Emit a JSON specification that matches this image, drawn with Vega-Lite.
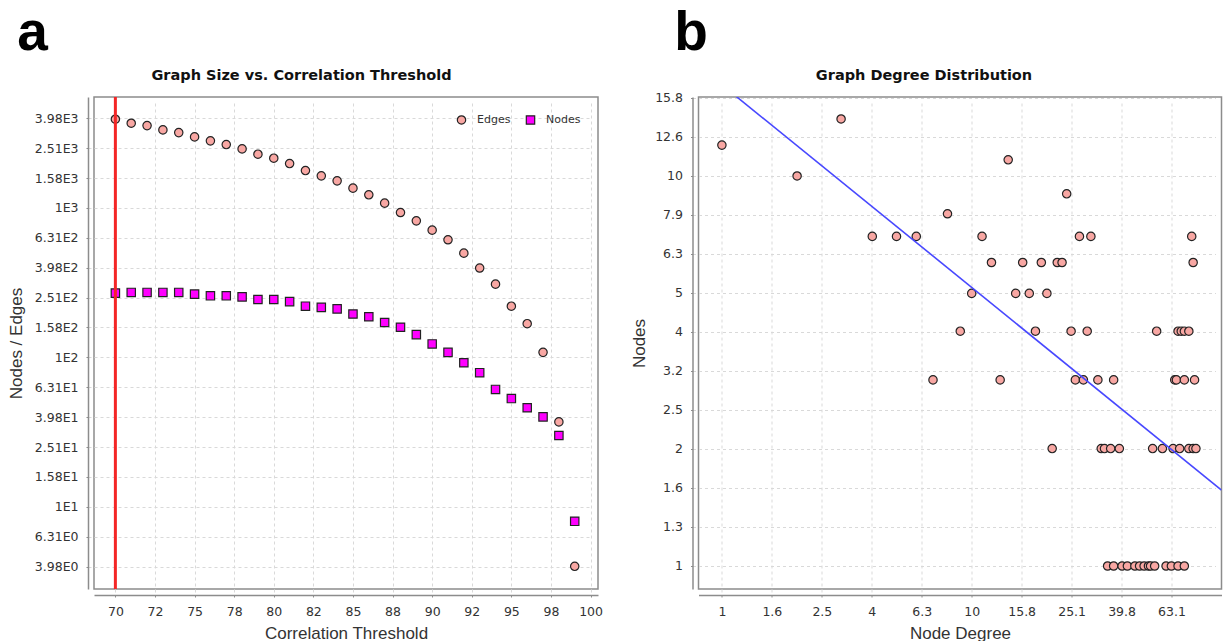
{
  "$schema": "https://vega.github.io/schema/vega-lite/v6.json",
  "background": "white",
  "padding": {"left": 6, "top": 5, "right": 0, "bottom": 0},
  "spacing": 100.5,
  "bounds": "flush",
  "resolve": {"scale": {"color": "independent", "shape": "independent"}, "legend": {"color": "independent", "shape": "independent"}},
  "config": {
    "view": {"stroke": "#8c8c8c", "strokeWidth": 1.5},
    "axis": {
      "labelFont": "DejaVu Sans",
      "labelFontSize": 12.5,
      "labelColor": "#333333",
      "labelOverlap": false,
      "labelFlush": false,
      "titleFont": "Liberation Sans",
      "titleFontSize": 17,
      "titleFontWeight": "normal",
      "titleColor": "#333333",
      "domainColor": "#8c8c8c",
      "domainWidth": 1.5,
      "tickColor": "#8c8c8c",
      "tickSize": 2,
      "labelPadding": 8,
      "gridColor": "#d9d9d9",
      "gridDash": [3, 3],
      "gridWidth": 1,
      "offset": 6
    }
  },
  "datasets": {
    "size": [
      {"threshold": 70, "series": "Edges", "count": 3920},
      {"threshold": 71, "series": "Edges", "count": 3686},
      {"threshold": 72, "series": "Edges", "count": 3552},
      {"threshold": 73, "series": "Edges", "count": 3325},
      {"threshold": 74, "series": "Edges", "count": 3189},
      {"threshold": 75, "series": "Edges", "count": 2985},
      {"threshold": 76, "series": "Edges", "count": 2808},
      {"threshold": 77, "series": "Edges", "count": 2652},
      {"threshold": 78, "series": "Edges", "count": 2482},
      {"threshold": 79, "series": "Edges", "count": 2288},
      {"threshold": 80, "series": "Edges", "count": 2151},
      {"threshold": 81, "series": "Edges", "count": 1979},
      {"threshold": 82, "series": "Edges", "count": 1777},
      {"threshold": 83, "series": "Edges", "count": 1638},
      {"threshold": 84, "series": "Edges", "count": 1517},
      {"threshold": 85, "series": "Edges", "count": 1356},
      {"threshold": 86, "series": "Edges", "count": 1223},
      {"threshold": 87, "series": "Edges", "count": 1076},
      {"threshold": 88, "series": "Edges", "count": 931},
      {"threshold": 89, "series": "Edges", "count": 819},
      {"threshold": 90, "series": "Edges", "count": 710},
      {"threshold": 91, "series": "Edges", "count": 612},
      {"threshold": 92, "series": "Edges", "count": 498},
      {"threshold": 93, "series": "Edges", "count": 396},
      {"threshold": 94, "series": "Edges", "count": 309},
      {"threshold": 95, "series": "Edges", "count": 220},
      {"threshold": 96, "series": "Edges", "count": 168},
      {"threshold": 97, "series": "Edges", "count": 108},
      {"threshold": 98, "series": "Edges", "count": 37},
      {"threshold": 99, "series": "Edges", "count": 4},
      {"threshold": 70, "series": "Nodes", "count": 269},
      {"threshold": 71, "series": "Nodes", "count": 272},
      {"threshold": 72, "series": "Nodes", "count": 272},
      {"threshold": 73, "series": "Nodes", "count": 272},
      {"threshold": 74, "series": "Nodes", "count": 272},
      {"threshold": 75, "series": "Nodes", "count": 265},
      {"threshold": 76, "series": "Nodes", "count": 258},
      {"threshold": 77, "series": "Nodes", "count": 258},
      {"threshold": 78, "series": "Nodes", "count": 254},
      {"threshold": 79, "series": "Nodes", "count": 244},
      {"threshold": 80, "series": "Nodes", "count": 244},
      {"threshold": 81, "series": "Nodes", "count": 236},
      {"threshold": 82, "series": "Nodes", "count": 220},
      {"threshold": 83, "series": "Nodes", "count": 216},
      {"threshold": 84, "series": "Nodes", "count": 211},
      {"threshold": 85, "series": "Nodes", "count": 195},
      {"threshold": 86, "series": "Nodes", "count": 187},
      {"threshold": 87, "series": "Nodes", "count": 171},
      {"threshold": 88, "series": "Nodes", "count": 159},
      {"threshold": 89, "series": "Nodes", "count": 142},
      {"threshold": 90, "series": "Nodes", "count": 123},
      {"threshold": 91, "series": "Nodes", "count": 108},
      {"threshold": 92, "series": "Nodes", "count": 92},
      {"threshold": 93, "series": "Nodes", "count": 79},
      {"threshold": 94, "series": "Nodes", "count": 61},
      {"threshold": 95, "series": "Nodes", "count": 53},
      {"threshold": 96, "series": "Nodes", "count": 46},
      {"threshold": 97, "series": "Nodes", "count": 40},
      {"threshold": 98, "series": "Nodes", "count": 30},
      {"threshold": 99, "series": "Nodes", "count": 8}
    ],
    "threshold": [{"threshold": 70}],
    "degrees": [
      {"degree": 1, "nodes": 12}, {"degree": 2, "nodes": 10}, {"degree": 3, "nodes": 14},
      {"degree": 4, "nodes": 7}, {"degree": 5, "nodes": 7}, {"degree": 6, "nodes": 7},
      {"degree": 7, "nodes": 3}, {"degree": 8, "nodes": 8}, {"degree": 9, "nodes": 4},
      {"degree": 10, "nodes": 5}, {"degree": 11, "nodes": 7}, {"degree": 12, "nodes": 6},
      {"degree": 13, "nodes": 3}, {"degree": 14, "nodes": 11}, {"degree": 15, "nodes": 5},
      {"degree": 16, "nodes": 6}, {"degree": 17, "nodes": 5}, {"degree": 18, "nodes": 4},
      {"degree": 19, "nodes": 6}, {"degree": 20, "nodes": 5}, {"degree": 21, "nodes": 2},
      {"degree": 22, "nodes": 6}, {"degree": 23, "nodes": 6}, {"degree": 24, "nodes": 9},
      {"degree": 25, "nodes": 4}, {"degree": 26, "nodes": 3}, {"degree": 27, "nodes": 7},
      {"degree": 28, "nodes": 3}, {"degree": 29, "nodes": 4}, {"degree": 30, "nodes": 7},
      {"degree": 32, "nodes": 3}, {"degree": 33, "nodes": 2}, {"degree": 34, "nodes": 2},
      {"degree": 35, "nodes": 1}, {"degree": 36, "nodes": 2}, {"degree": 37, "nodes": 3},
      {"degree": 37, "nodes": 1}, {"degree": 39, "nodes": 2}, {"degree": 40, "nodes": 1},
      {"degree": 42, "nodes": 1}, {"degree": 45, "nodes": 1}, {"degree": 47, "nodes": 1},
      {"degree": 49, "nodes": 1}, {"degree": 51, "nodes": 1}, {"degree": 52, "nodes": 1},
      {"degree": 53, "nodes": 2}, {"degree": 54, "nodes": 1}, {"degree": 55, "nodes": 4},
      {"degree": 58, "nodes": 2}, {"degree": 60, "nodes": 1}, {"degree": 63, "nodes": 1},
      {"degree": 64, "nodes": 2}, {"degree": 65, "nodes": 3}, {"degree": 66, "nodes": 3},
      {"degree": 67, "nodes": 1}, {"degree": 67, "nodes": 4}, {"degree": 68, "nodes": 2},
      {"degree": 69, "nodes": 4}, {"degree": 71, "nodes": 4}, {"degree": 71, "nodes": 3},
      {"degree": 71, "nodes": 1}, {"degree": 74, "nodes": 4}, {"degree": 74, "nodes": 2},
      {"degree": 76, "nodes": 7}, {"degree": 77, "nodes": 6}, {"degree": 77, "nodes": 2},
      {"degree": 78, "nodes": 3}, {"degree": 79, "nodes": 2}
    ],
    "fit": [
      {"degree": 0.806, "nodes": 19.16},
      {"degree": 100, "nodes": 1.566}
    ]
  },
  "hconcat": [
    {
      "width": 504,
      "height": 492,
      "title": {"text": "a", "anchor": "start", "frame": "bounds", "font": "Liberation Sans", "fontSize": 55, "fontWeight": "bold", "color": "#000000", "dx": 10, "offset": 5},
      "layer": [
        {
          "data": {"name": "size"},
          "mark": {"type": "point", "filled": true, "size": 70, "stroke": "#222222", "strokeWidth": 1.2, "opacity": 1},
          "encoding": {
            "x": {
              "field": "threshold", "type": "quantitative",
              "scale": {"domain": [68.65, 100.47], "nice": false, "zero": false},
              "axis": {
                "orient": "bottom",
                "title": "Correlation Threshold",
                "values": [70, 72.5, 75, 77.5, 80, 82.5, 85, 87.5, 90, 92.5, 95, 97.5, 100],
                "labelExpr": "floor(datum.value) % 2 == 0 ? format(floor(datum.value), 'd') : format(ceil(datum.value), 'd')",
                "titlePadding": 8
              }
            },
            "y": {
              "field": "count", "type": "quantitative",
              "scale": {"type": "log", "domain": [2.82, 5520], "nice": false},
              "axis": {
                "title": "Nodes / Edges",
                "values": [3.981, 6.310, 10, 15.849, 25.119, 39.811, 63.096, 100, 158.49, 251.19, 398.11, 630.96, 1000, 1584.9, 2511.9, 3981.1],
                "labelExpr": "replace(format(datum.value, '.2~e'), 'e+', 'E')",
                "titlePadding": 9
              }
            },
            "color": {
              "field": "series", "type": "nominal",
              "scale": {"domain": ["Edges", "Nodes"], "range": ["#f8a7a3", "#ff00ff"]},
              "legend": {
                "title": null, "orient": "top-right", "direction": "horizontal",
                "offset": 12, "padding": 5, "columnPadding": 12, "labelOffset": 10,
                "labelFont": "DejaVu Sans", "labelFontSize": 11, "labelColor": "#333333",
                "symbolSize": 70, "symbolStrokeColor": "#222222", "symbolStrokeWidth": 1.2
              }
            },
            "shape": {
              "field": "series", "type": "nominal",
              "scale": {"domain": ["Edges", "Nodes"], "range": ["circle", "square"]}
            }
          }
        },
        {
          "data": {"name": "threshold"},
          "mark": {"type": "rule", "color": "#f42626", "strokeWidth": 3},
          "encoding": {
            "x": {
              "field": "threshold", "type": "quantitative",
              "axis": {
                "orient": "top", "title": "Graph Size vs. Correlation Threshold",
                "labels": false, "ticks": false, "domain": false, "grid": false, "offset": 0,
                "titleFont": "DejaVu Sans", "titleFontWeight": "bold", "titleFontSize": 14.5, "titleColor": "#111111",
                "titlePadding": 15, "titleX": 207, "titleAlign": "center"
              }
            }
          }
        }
      ]
    },
    {
      "width": 523,
      "height": 492,
      "title": {"text": "b", "anchor": "start", "frame": "bounds", "font": "Liberation Sans", "fontSize": 55, "fontWeight": "bold", "color": "#000000", "dx": 43.5, "offset": 5},
      "layer": [
        {
          "data": {"name": "degrees"},
          "mark": {"type": "point", "filled": true, "size": 70, "fill": "#f8a7a3", "stroke": "#222222", "strokeWidth": 1.2, "opacity": 1},
          "encoding": {
            "x": {
              "field": "degree", "type": "quantitative",
              "scale": {"type": "log", "domain": [0.806, 100], "nice": false},
              "axis": {
                "orient": "bottom",
                "title": "Node Degree",
                "values": [1, 1.5849, 2.5119, 3.9811, 6.3096, 10, 15.849, 25.119, 39.811, 63.096],
                "format": ".1~f",
                "titlePadding": 8
              }
            },
            "y": {
              "field": "nodes", "type": "quantitative",
              "scale": {"type": "log", "domain": [0.873, 15.94], "nice": false},
              "axis": {
                "title": "Nodes",
                "values": [1, 1.2589, 1.5849, 1.9953, 2.5119, 3.1623, 3.9811, 5.0119, 6.3096, 7.9433, 10, 12.589, 15.849],
                "format": ".1~f",
                "titlePadding": 6
              }
            }
          }
        },
        {
          "data": {"name": "fit"},
          "mark": {"type": "line", "color": "#4848ff", "strokeWidth": 1.6, "clip": true},
          "encoding": {
            "x": {
              "field": "degree", "type": "quantitative",
              "axis": {
                "orient": "top", "title": "Graph Degree Distribution",
                "labels": false, "ticks": false, "domain": false, "grid": false, "offset": 0,
                "titleFont": "DejaVu Sans", "titleFontWeight": "bold", "titleFontSize": 14.5, "titleColor": "#111111",
                "titlePadding": 15, "titleX": 225, "titleAlign": "center"
              }
            },
            "y": {"field": "nodes", "type": "quantitative"}
          }
        }
      ]
    }
  ]
}
